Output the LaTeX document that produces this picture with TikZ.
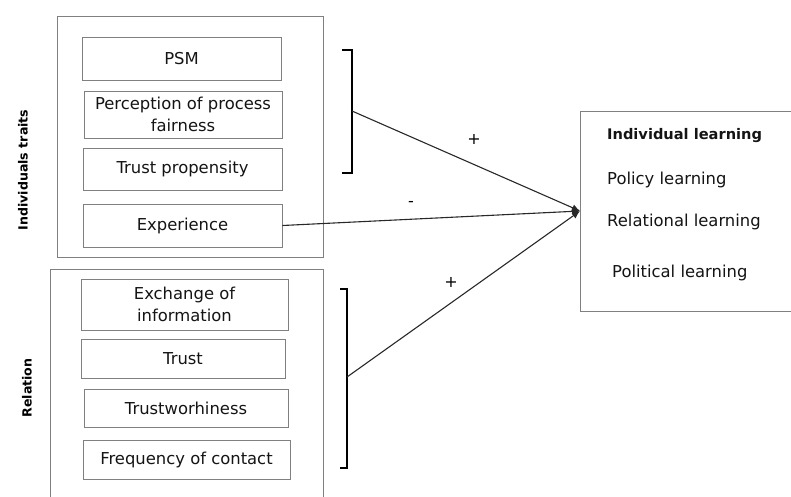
\documentclass[tikz,border=0pt]{standalone}
\usepackage{fontspec}
\setmainfont{DejaVu Sans}
\usetikzlibrary{arrows.meta,positioning}
\definecolor{figbox}{RGB}{128,128,128}
\definecolor{figline}{RGB}{40,40,40}
\definecolor{figtext}{RGB}{20,20,20}
\tikzset{
  grp/.style  ={draw=figbox, line width=0.9pt},
  itm/.style  ={draw=figbox, line width=0.9pt, inner sep=0pt, align=center,
                font=\fontsize{16.4}{21.5}\selectfont, text=figtext},
  brk/.style  ={draw=black, line width=1.6pt},
  conn/.style ={draw=figline, line width=1.1pt, -{Latex[length=8pt,width=7pt]}},
  sgn/.style  ={font=\fontsize{16}{19}\selectfont, inner sep=1pt},
  side/.style ={font=\fontsize{12.6}{15}\selectfont\bfseries, rotate=90},
  lrn/.style  ={font=\fontsize{16.4}{19}\selectfont, anchor=west, inner sep=0pt, text=figtext},
}
\begin{document}
\begin{tikzpicture}[x=1pt,y=-1pt]
  \useasboundingbox (0,0) rectangle (791,496);
  \begin{scope}
  \clip (0,0) rectangle (791,496);
  % groups
  \draw[grp] (57,16) rectangle (323,257);
  \draw[grp] (50,269) rectangle (323,520);
  \node[side] (traits) at (23,170) {Individuals traits};
  \node[side] (rel) at (27,388) {Relation};
  % individual traits
  \node[itm, minimum width=199pt, minimum height=43pt] (psm) at (181.5,58.5) {PSM};
  \node[itm, minimum width=198pt, minimum height=47pt] (fair) at (183,114.5) {Perception of process\\fairness};
  \node[itm, minimum width=199pt, minimum height=42pt] (prop) at (182.5,169) {Trust propensity};
  \node[itm, minimum width=199pt, minimum height=43pt] (exp) at (182.5,225.5) {Experience};
  % relation
  \node[itm, minimum width=207pt, minimum height=51pt] (info) at (184.5,304.5) {Exchange of\\information};
  \node[itm, minimum width=204pt, minimum height=39pt] (trust) at (183,358.5) {Trust};
  \node[itm, minimum width=204pt, minimum height=38pt] (worth) at (186,408) {Trustworhiness};
  \node[itm, minimum width=207pt, minimum height=39pt] (freq) at (186.5,459.5) {Frequency of contact};
  % outcome
  \node[grp, minimum width=240pt, minimum height=200pt, anchor=west] (learn) at (580,211) {};
  \node[lrn, font=\fontsize{14.6}{17}\selectfont\bfseries] (ind) at (607,136) {Individual learning};
  \node[lrn] (pol) at (607,180) {Policy learning};
  \node[lrn] (rell) at (607,222) {Relational learning};
  \node[lrn] (polit) at (612,273) {Political learning};
  % brackets
  \draw[brk] (342,50) -- (352,50) -- (352,173) -- (342,173);
  \draw[brk] (340,289) -- (347,289) -- (347,468) -- (340,468);
  \coordinate (b1) at (352,111);
  \coordinate (b2) at (347,377);
  % arrows
  \draw[conn] (b1) -- (learn.west);
  \draw[conn] (exp.east) -- (learn.west);
  \draw[conn] (b2) -- (learn.west);
  \node[sgn] (p1) at (474,139) {+};
  \node[sgn] (m1) at (411,204) {-};
  \node[sgn] (p2) at (451,282) {+};
  \end{scope}
\end{tikzpicture}
\end{document}
